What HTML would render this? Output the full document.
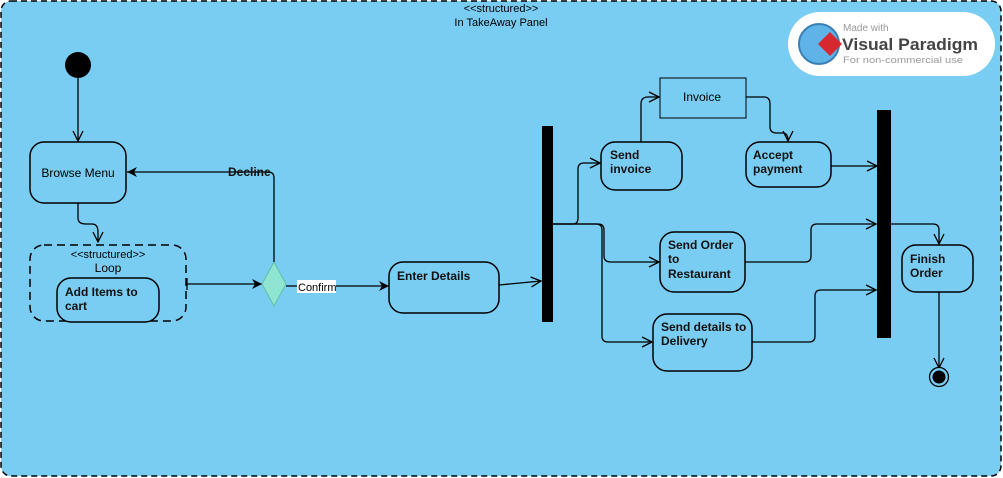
<!DOCTYPE html>
<html><head><meta charset="utf-8"><style>
html,body{margin:0;padding:0;background:#fff;}
svg{display:block;font-family:"Liberation Sans",sans-serif;}
.n{fill:#79cdf2;stroke:#000;stroke-width:1.5;}
.l{fill:none;stroke:#000;stroke-width:1.3;}
.t{font-size:12px;fill:#000;}
.b{font-size:12px;font-weight:bold;fill:#111;}
</style></head><body>
<svg width="1003" height="478" viewBox="0 0 1003 478">
<defs>
<marker id="o" markerWidth="12" markerHeight="12" refX="11" refY="6" orient="auto" markerUnits="userSpaceOnUse"><path d="M1,1 L11,6 L1,11" fill="none" stroke="#000" stroke-width="1.3"/></marker>
<marker id="f" markerWidth="12" markerHeight="12" refX="11" refY="6" orient="auto" markerUnits="userSpaceOnUse"><path d="M1,1 L11,6 L1,11 L4,6 Z" fill="#000"/></marker>
</defs>
<rect x="1" y="1" width="1000" height="475" rx="10" fill="#79cdf2" stroke="#000" stroke-width="1.5" stroke-dasharray="6,4"/>
<text x="501" y="12" text-anchor="middle" font-size="11">&lt;&lt;structured&gt;&gt;</text>
<text x="501" y="26" text-anchor="middle" font-size="11">In TakeAway Panel</text>
<!-- logo -->
<rect x="788" y="12" width="207" height="64" rx="32" fill="#fff"/>
<circle cx="819" cy="44" r="20" fill="#5fb3e6" stroke="#3a7fb5" stroke-width="2"/>
<path d="M830,32 L842,44 L830,56 L818,44 Z" fill="#d7282f"/>
<text x="843" y="31" font-size="10" fill="#999">Made with</text>
<text x="842" y="50" font-size="17" font-weight="bold" fill="#444" textLength="136" lengthAdjust="spacingAndGlyphs">Visual Paradigm</text>
<text x="843" y="63" font-size="9.5" fill="#999" textLength="120" lengthAdjust="spacingAndGlyphs">For non-commercial use</text>
<!-- initial -->
<circle cx="78" cy="65" r="13" fill="#000"/>
<path class="l" d="M78,78 L78,141" marker-end="url(#o)"/>
<rect class="n" x="30" y="142" width="96" height="61" rx="14"/>
<text x="78" y="177" text-anchor="middle" class="t">Browse Menu</text>
<path class="l" d="M78,203 L78,218 Q78,224 86,224 L92,224 Q98,224 98,232 L98,242" marker-end="url(#o)"/>
<rect x="30" y="245" width="156" height="76" rx="14" fill="none" stroke="#000" stroke-width="1.5" stroke-dasharray="8,5"/>
<text x="108" y="258" text-anchor="middle" font-size="11">&lt;&lt;structured&gt;&gt;</text>
<text x="108" y="272" text-anchor="middle" font-size="12">Loop</text>
<rect class="n" x="57" y="278" width="102" height="44" rx="14"/>
<text x="65" y="296" class="b">Add Items to</text>
<text x="65" y="310" class="b">cart</text>
<path class="l" d="M187,278 L187,290 M187,284 L262,284" marker-end="url(#f)"/>
<path d="M274,262 L286,284 L274,306 L262,284 Z" fill="#8fe5d0" stroke="#5fc0a8" stroke-width="1"/>
<path class="l" d="M274,262 L274,178 Q274,172 268,172 L127,172" marker-end="url(#f)"/>
<text x="228" y="176" class="b" font-size="11">Decline</text>
<path class="l" d="M286,286 L389,286" marker-end="url(#f)"/>
<rect x="297" y="280" width="39" height="13" fill="#fff"/>
<text x="298" y="291" font-size="11">Confirm</text>
<rect class="n" x="389" y="262" width="110" height="51" rx="14"/>
<text x="397" y="280" class="b">Enter Details</text>
<path class="l" d="M499,285 L541,281" marker-end="url(#o)"/>
<rect x="542" y="126" width="11" height="196" fill="#000"/>
<path class="l" d="M553,224 L573,224 Q578,224 578,218 L578,169 Q578,163 584,163 L600,163" marker-end="url(#o)"/>
<rect class="n" x="601" y="142" width="81" height="48" rx="14"/>
<text x="610" y="159" class="b">Send</text>
<text x="610" y="173" class="b">invoice</text>
<path class="l" d="M641,142 L641,104 Q641,97 648,97 L659,97" marker-end="url(#o)"/>
<rect x="660" y="78" width="86" height="40" fill="#79cdf2" stroke="#000" stroke-width="1"/>
<text x="702" y="101" text-anchor="middle" class="t">Invoice</text>
<path class="l" d="M746,97 L764,97 Q770,97 770,104 L770,127 Q770,133 777,133 L784,133 Q788,134 788,141" marker-end="url(#o)"/>
<rect class="n" x="746" y="142" width="85" height="45" rx="14"/>
<text x="753" y="159" class="b">Accept</text>
<text x="753" y="173" class="b">payment</text>
<path class="l" d="M831,166 L877,166" marker-end="url(#o)"/>
<rect x="877" y="110" width="14" height="228" fill="#000"/>
<path class="l" d="M553,224 L598,224 Q604,224 604,230 L604,256 Q604,262 611,262 L659,262" marker-end="url(#o)"/>
<rect class="n" x="660" y="232" width="85" height="60" rx="14"/>
<text x="668" y="249" class="b">Send Order</text>
<text x="668" y="263" class="b">to</text>
<text x="668" y="278" class="b">Restaurant</text>
<path class="l" d="M745,262 L805,262 Q811,262 811,256 L811,230 Q811,224 817,224 L876,224" marker-end="url(#o)"/>
<path class="l" d="M553,224 L596,224 Q602,224 602,230 L602,336 Q602,342 608,342 L652,342" marker-end="url(#o)"/>
<rect class="n" x="653" y="314" width="99" height="57" rx="14"/>
<text x="661" y="331" class="b">Send details to</text>
<text x="661" y="345" class="b">Delivery</text>
<path class="l" d="M752,342 L809,342 Q815,342 815,336 L815,296 Q815,290 821,290 L876,290" marker-end="url(#o)"/>
<path class="l" d="M891,224 L933,224 Q939,224 939,230 L939,244" marker-end="url(#o)"/>
<rect class="n" x="902" y="245" width="71" height="47" rx="14"/>
<text x="910" y="263" class="b">Finish</text>
<text x="910" y="277" class="b">Order</text>
<path class="l" d="M939,292 L939,368" marker-end="url(#o)"/>
<circle cx="939" cy="377" r="9.5" fill="#79cdf2" stroke="#000" stroke-width="1.3"/>
<circle cx="939" cy="377" r="6.5" fill="#000"/>
</svg>
</body></html>
